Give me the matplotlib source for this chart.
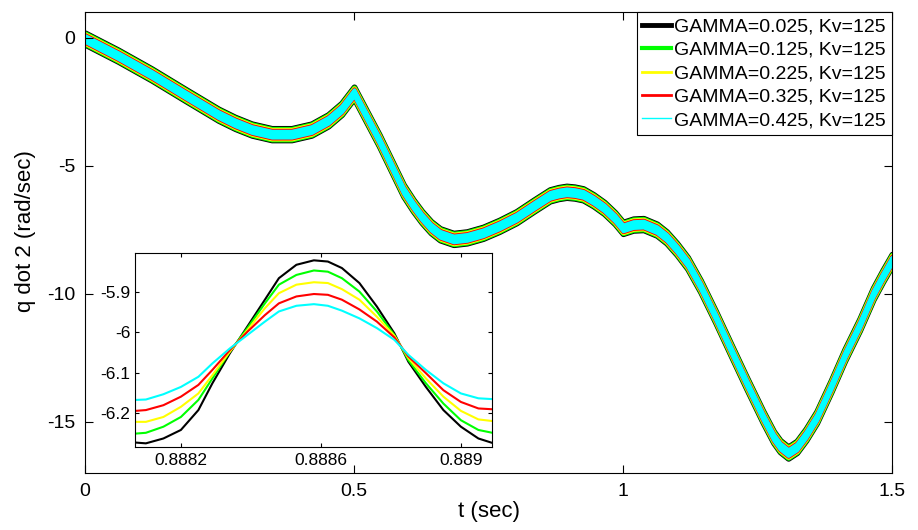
import matplotlib
matplotlib.use('Agg')
import matplotlib.pyplot as plt
from matplotlib.lines import Line2D
import numpy as np

plt.rcParams['font.family'] = ['Liberation Sans', 'DejaVu Sans']
plt.rcParams['axes.unicode_minus'] = False

# centre of the (fast oscillating) q dot 2 trace
t_main = [0, 0.062, 0.124, 0.186, 0.248, 0.279, 0.310, 0.347, 0.384, 0.421,
          0.452, 0.477, 0.5,
          0.547, 0.592, 0.610, 0.626, 0.643, 0.660, 0.685, 0.710, 0.740,
          0.770, 0.802, 0.835, 0.864, 0.880, 0.895, 0.910, 0.926, 0.945,
          0.965, 0.985, 1.0,
          1.019, 1.038, 1.063, 1.081, 1.100, 1.120, 1.144, 1.172, 1.202,
          1.230, 1.260, 1.280, 1.292, 1.307, 1.323, 1.340, 1.360, 1.387,
          1.412, 1.440, 1.465, 1.483, 1.5]
q_main = [-0.04, -0.71, -1.44, -2.23, -3.01, -3.33, -3.59, -3.77, -3.77, -3.59,
          -3.23, -2.78, -2.15,
          -4.02, -5.97, -6.55, -7.00, -7.40, -7.68, -7.86, -7.80, -7.62,
          -7.35, -7.01, -6.55, -6.16, -6.07, -6.02, -6.05, -6.12, -6.35,
          -6.65, -7.05, -7.43,
          -7.30, -7.28, -7.50, -7.80, -8.25, -8.80, -9.70, -10.90, -12.25,
          -13.50, -14.80, -15.60, -15.95, -16.20, -15.98, -15.50, -14.82, -13.60,
          -12.40, -11.20, -10.00, -9.30, -8.68]

# zoomed window around t = 0.8886 (inset)
t_zoom = [0.88807, 0.88810, 0.88815, 0.88820, 0.88825, 0.88829, 0.88834,
          0.88839, 0.88844, 0.88848, 0.88853, 0.88858, 0.88862, 0.88866,
          0.88871, 0.88876, 0.88881, 0.88885, 0.88890, 0.88895, 0.88900,
          0.88905, 0.88909]
q_g025 = [-6.272, -6.274, -6.262, -6.241, -6.192, -6.126, -6.052, -5.986,
          -5.920, -5.867, -5.834, -5.823, -5.826, -5.842, -5.879, -5.937,
          -6.003, -6.073, -6.135, -6.192, -6.233, -6.262, -6.273]
q_g125 = [-6.250, -6.248, -6.233, -6.209, -6.167, -6.114, -6.048, -5.990,
          -5.929, -5.883, -5.859, -5.848, -5.851, -5.867, -5.900, -5.949,
          -6.007, -6.069, -6.126, -6.176, -6.217, -6.241, -6.248]
q_g225 = [-6.221, -6.221, -6.209, -6.184, -6.151, -6.106, -6.048, -5.995,
          -5.941, -5.904, -5.883, -5.877, -5.879, -5.894, -5.920, -5.962,
          -6.009, -6.064, -6.114, -6.159, -6.194, -6.215, -6.219]
q_g325 = [-6.194, -6.192, -6.180, -6.159, -6.130, -6.093, -6.044, -5.999,
          -5.958, -5.929, -5.912, -5.906, -5.908, -5.920, -5.944, -5.974,
          -6.013, -6.060, -6.101, -6.143, -6.172, -6.188, -6.190]
q_g425 = [-6.167, -6.166, -6.153, -6.135, -6.110, -6.077, -6.040, -6.007,
          -5.974, -5.949, -5.935, -5.931, -5.935, -5.947, -5.966, -5.990,
          -6.019, -6.056, -6.093, -6.126, -6.151, -6.163, -6.165]

labels = ['GAMMA=0.025, Kv=125', 'GAMMA=0.125, Kv=125', 'GAMMA=0.225, Kv=125',
          'GAMMA=0.325, Kv=125', 'GAMMA=0.425, Kv=125']
zoom_data = [q_g025, q_g125, q_g225, q_g325, q_g425]
colors = ['#000000', '#00ff00', '#ffff00', '#ff0000', '#00ffff']
legend_widths = [3.5, 3.0, 2.0, 2.0, 1.0]
band_widths = [4.2, 3.8, 3.4, 3.1, 2.7]

main_xticks = [0, 0.5, 1, 1.5]
main_xlabels = ['0', '0.5', '1', '1.5']
main_yticks = [-15, -10, -5, 0]
main_ylabels = ['-15', '-10', '-5', '0']
zoom_xticks = [0.8882, 0.8886, 0.889]
zoom_xlabels = ['0.8882', '0.8886', '0.889']
zoom_yticks = [-6.2, -6.1, -6.0, -5.9]
zoom_ylabels = ['-6.2', '-6.1', '-6', '-5.9']

fig = plt.figure(figsize=(9.18, 5.30), dpi=100)
ax = fig.add_axes([0.0926, 0.1075, 0.8791, 0.8699])

t = np.array(t_main)
q = np.array(q_main)
handles = []
for qz, c, w, bw, lab in zip(zoom_data, colors, legend_widths, band_widths,
                             labels):
    # the fast oscillation shows up as a band: half peak-to-peak from the inset
    amp = (max(qz) - min(qz)) / 2
    band = ax.fill_between(t, q - amp, q + amp, facecolor=c, edgecolor=c,
                           lw=bw, antialiased=False)
    band.set_joinstyle('round')
    handles.append(Line2D([], [], color=c, lw=w))

ax.set_xlim(0, 1.5)
ax.set_ylim(-17, 1)
ax.set_xticks(main_xticks)
ax.set_xticklabels(main_xlabels)
ax.set_yticks(main_yticks)
ax.set_yticklabels(main_ylabels)
ax.tick_params(direction='in', top=True, right=True, length=6, width=0.8,
               labelsize=14, pad=7)
for s in ax.spines.values():
    s.set_linewidth(0.8)
    s.set_zorder(5)
ax.set_xlabel('t (sec)', fontsize=16, labelpad=1)
ax.set_ylabel('q dot 2 (rad/sec)', fontsize=16)
ax.yaxis.set_label_coords(-0.0605, 0.525)

leg = ax.legend(handles, labels, loc='upper right', fontsize=14,
                frameon=True, fancybox=False, borderaxespad=0,
                borderpad=0.3, labelspacing=0.3, handlelength=1.45,
                handletextpad=0.2, framealpha=1)
leg.get_frame().set_edgecolor('black')
leg.get_frame().set_linewidth(0.8)
leg.set_zorder(10)

# inset
axi = fig.add_axes([0.1471, 0.1566, 0.3889, 0.3660])
for qz, c in zip(zoom_data, colors):
    axi.plot(t_zoom, qz, color=c, lw=1.5)
axi.set_xlim(0.888069, 0.889089)
axi.set_ylim(-6.283, -5.805)
axi.set_xticks(zoom_xticks)
axi.set_xticklabels(zoom_xlabels)
axi.set_yticks(zoom_yticks)
axi.set_yticklabels(zoom_ylabels)
axi.tick_params(direction='in', top=True, right=True, length=3, width=0.8,
                labelsize=12.5)
axi.tick_params(axis='x', pad=4)
axi.tick_params(axis='y', pad=3.5)
for s in axi.spines.values():
    s.set_linewidth(0.8)

fig.savefig('out.png', dpi=100)
